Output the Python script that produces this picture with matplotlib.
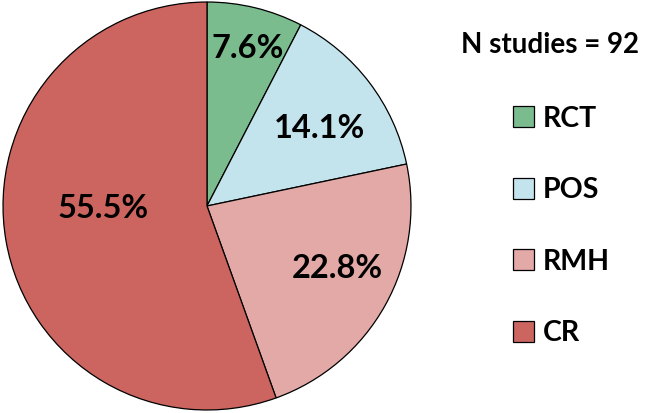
import numpy as np
import matplotlib.pyplot as plt
from matplotlib.patches import Patch

# study design shares (N = 92)
labels = ['RCT', 'POS', 'RMH', 'CR']
shares = [7.6, 14.1, 22.8, 55.5]
colors = ['#7BBC8F', '#C4E4ED', '#E3A9A7', '#CC6560']
n_studies = 92

# where each percentage sits: (fraction of radius, angle in degrees)
label_pos = [(0.80, 75.5), (0.67, 34.6), (0.71, -25.5), (0.51, 181.6)]

plt.rcParams['font.family'] = ['Lato', 'DejaVu Sans']
plt.rcParams['font.weight'] = 'bold'

fig = plt.figure(figsize=(6.49, 4.13), dpi=100)
ax = fig.add_axes([2 / 649, 2 / 413, 410 / 649, 410 / 413])

wedges, _ = ax.pie(shares, colors=colors, startangle=90, counterclock=False,
                   wedgeprops=dict(edgecolor='black', linewidth=0.9))
ax.set_xlim(-1.005, 1.005)
ax.set_ylim(-1.005, 1.005)
ax.set_aspect('equal')

for s, (d, a) in zip(shares, label_pos):
    ang = np.deg2rad(a)
    ax.text(d * np.cos(ang), d * np.sin(ang), f'{s}%', ha='center', va='center',
            fontsize=23.5, fontweight='bold')

handles = [Patch(facecolor=c, edgecolor='black', linewidth=0.9) for c in colors]
leg = fig.legend(handles, labels, loc='upper left',
                 bbox_to_anchor=(487 / 649, 1 - 80 / 413),
                 frameon=False, fontsize=20.5,
                 labelspacing=1.6, handlelength=0.75, handleheight=0.75,
                 handletextpad=0.3)
for t in leg.get_texts():
    t.set_fontweight('bold')

fig.text(550 / 649, 1 - 45 / 413, f'N studies = {n_studies}', ha='center',
         va='center', fontsize=20, fontweight='bold')

fig.savefig('out.png', dpi=100)
